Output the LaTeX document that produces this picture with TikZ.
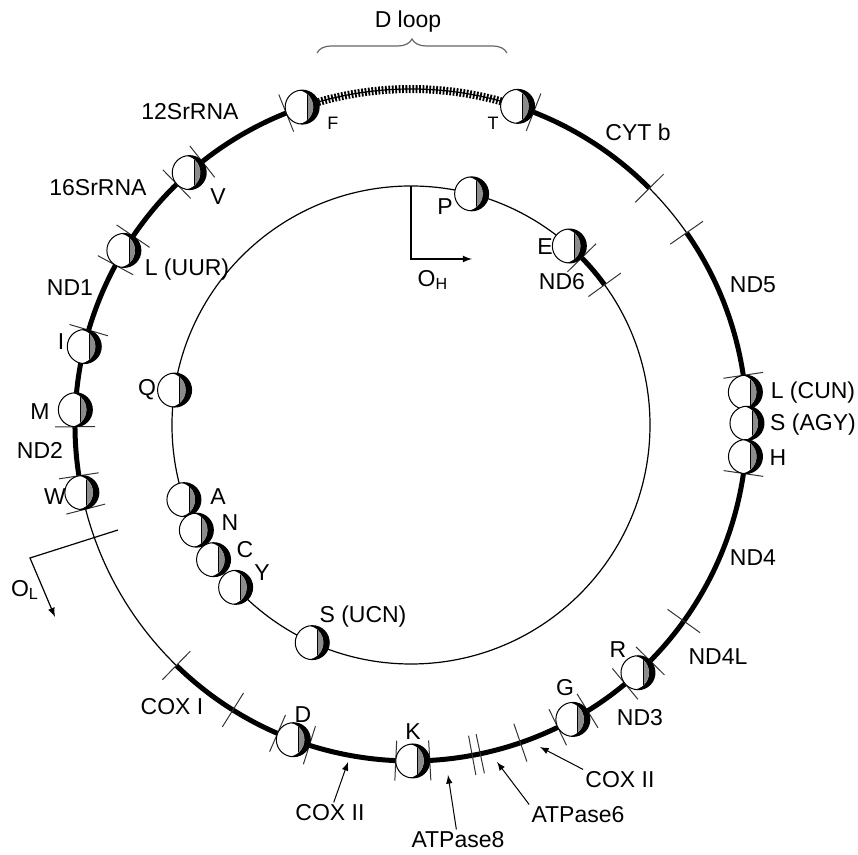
\documentclass[tikz,border=0pt]{standalone}
\usepackage{fontspec}
\setmainfont{Liberation Sans}
\usetikzlibrary{arrows,calc,decorations.pathreplacing}
\definecolor{BandClr}{gray}{0.55}
\definecolor{TickClr}{gray}{0.2}
\definecolor{BraceClr}{gray}{0.4}

\tikzset{
  trna/.style={circle,draw=black,line width=0.5pt,minimum size=17pt,inner sep=0pt,fill=white,
    path picture={
      \fill[black] (path picture bounding box.south west) rectangle (path picture bounding box.north east);
      \begin{scope}
        \clip ([xshift=-3pt]path picture bounding box.center) circle[radius=8.5pt];
        \fill[white] (path picture bounding box.south west) rectangle (path picture bounding box.north east);
        \fill[BandClr] ([xshift=2.5pt]path picture bounding box.south) rectangle (path picture bounding box.north east);
        \draw[line width=0.4pt] ([xshift=2.5pt]path picture bounding box.south) -- ([xshift=2.5pt]path picture bounding box.north);
      \end{scope}
    }},
  strand/.style={line width=0.6pt},
  gene/.style={line width=2.5pt},
  dloop/.style={line width=4pt,dash pattern=on 0.9pt off 0.8pt},
  tick/.style={line width=0.5pt,color=TickClr},
  lbl/.style={font=\fontsize{11.5}{13}\selectfont,inner sep=1pt},
  tlbl/.style={font=\fontsize{9}{10}\selectfont,inner sep=1pt},
  ptr/.style={-latex,line width=0.5pt},
}

\begin{document}
\begin{tikzpicture}[x=0.5pt,y=0.5pt]
\useasboundingbox (-411,-430) rectangle (447,425);

\draw[strand] (0,0) circle[radius=336];
\draw[strand] (0,0) circle[radius=239];

\draw[gene] (44.8:336) arc[start angle=44.8,end angle=71.5,radius=336];
\draw[gene] (8.5:336) arc[start angle=8.5,end angle=34.9,radius=336];
\draw[gene] (225.7:336) arc[start angle=225.7,end angle=354.6,radius=336];
\draw[gene] (108.9:336) arc[start angle=108.9,end angle=191.6,radius=336];
\draw[gene] (35.9:239) arc[start angle=35.9,end angle=48.5,radius=239];
\draw[dloop] (71.5:336) arc[start angle=71.5,end angle=108.9,radius=336];

\foreach \a in {111.8,68.6,44.8,34.9,8.5,351.7,324.3,315.4,309.6,301.7,295.9,289,281.9,280.5,273.2,267.4,252.4,246.6,238,225.7,194.5,188.7,180.3,163.6,151.6,145.8,134.2,128.4}
  \draw[tick] (\a:316) -- (\a:356);
\foreach \a in {44.4,35.9}
  \draw[tick] (\a:219) -- (\a:259);

\node[trna] (F) at (108.9:336) {};
\node[trna] (T) at (71.5:336) {};
\node[trna] (V) at (131.3:336) {};
\node[trna] (Lu) at (148.7:336) {};
\node[trna] (I) at (166.5:336) {};
\node[trna] (M) at (177.4:336) {};
\node[trna] (W) at (191.6:336) {};
\node[trna] (D) at (249.5:336) {};
\node[trna] (K) at (270.3:336) {};
\node[trna] (G) at (298.8:336) {};
\node[trna] (R) at (312.5:336) {};
\node[trna] (Lc) at (5.6:336) {};
\node[trna] (Sa) at (0.3:336) {};
\node[trna] (H) at (354.6:336) {};

\node[trna] (P) at (75.3:239) {};
\node[trna] (E) at (48.5:239) {};
\node[trna] (Q) at (171.6:239) {};
\node[trna] (A) at (198.2:239) {};
\node[trna] (N) at (206.1:239) {};
\node[trna] (C) at (214.3:239) {};
\node[trna] (Y) at (222.8:239) {};
\node[trna] (Su) at (245.6:239) {};

\node[lbl] (lDl) at (-3,403) {D loop};
\draw[decorate,decoration={brace,amplitude=7pt},line width=0.6pt,color=BraceClr] (-94,372) -- (96,372);

\node[tlbl] (lF) at (-78,302) {F};
\node[tlbl] (lT) at (82,302) {T};
\node[lbl] (l12S) at (-221,313) {12SrRNA};
\node[lbl] (l16S) at (-313,237) {16SrRNA};
\node[lbl] (lV) at (-193,228) {V};
\node[lbl] (lLu) at (-224,155) {L (UUR)};
\node[lbl] (lND1) at (-341,137) {ND1};
\node[lbl] (lI) at (-350,83) {I};
\node[lbl] (lM) at (-371,13) {M};
\node[lbl] (lND2) at (-371,-25) {ND2};
\node[lbl] (lW) at (-356,-72) {W};
\node[lbl] (lQ) at (-264,35) {Q};
\node[lbl] (lA) at (-193,-72) {A};
\node[lbl] (lN) at (-181,-98) {N};
\node[lbl] (lC) at (-166,-125) {C};
\node[lbl] (lY) at (-149,-148) {Y};
\node[lbl] (lSu) at (-48,-192) {S (UCN)};
\node[lbl] (lCYT) at (227,293) {CYT b};
\node[lbl] (lP) at (34,218) {P};
\node[lbl] (lE) at (134,178) {E};
\node[lbl] (lND6) at (151,143) {ND6};
\node[lbl] (lND5) at (342,140) {ND5};
\node[lbl] (lLc) at (402,32) {L (CUN)};
\node[lbl] (lSa) at (402,0) {S (AGY)};
\node[lbl] (lH) at (367,-33) {H};
\node[lbl] (lND4) at (342,-133) {ND4};
\node[lbl] (lND4L) at (307,-232) {ND4L};
\node[lbl] (lR) at (207,-225) {R};
\node[lbl] (lND3) at (229,-293) {ND3};
\node[lbl] (lG) at (154,-263) {G};
\node[lbl] (lK) at (2,-307) {K};
\node[lbl] (lD) at (-108,-290) {D};
\node[lbl] (lCOX1) at (-239,-282) {COX I};
\node[lbl] (lCOX2a) at (-81,-388) {COX II};
\node[lbl] (lCOX2b) at (209,-355) {COX II};
\node[lbl] (lATP6) at (167,-390) {ATPase6};
\node[lbl] (lATP8) at (47,-415) {ATPase8};

\coordinate (aCOX2a) at (-63,-337);
\coordinate (aATP8) at (37,-350);
\coordinate (aATP6) at (86,-337);
\coordinate (aCOX2b) at (129,-322);
\draw[ptr] (lCOX2a) -- (aCOX2a);
\draw[ptr] (lATP8) -- (aATP8);
\draw[ptr] (lATP6.north west) -- (aATP6);
\draw[ptr] (lCOX2b.north west) -- (aCOX2b);

\coordinate (oh) at (90:239);
\coordinate (ohc) at (0,166);
\coordinate (ohe) at (61,166);
\draw[ptr,line width=0.6pt] (oh) -- (ohc) -- (ohe);
\node[lbl] (lOH) at (22,145) {O\textsubscript{H}};

\coordinate (olA) at (-293,-105);
\coordinate (olB) at (-381,-133);
\coordinate (olC) at (-356,-192);
\draw[ptr,line width=0.6pt] (olA) -- (olB) -- (olC);
\node[lbl] (lOL) at (-386,-165) {O\textsubscript{L}};

\end{tikzpicture}
\end{document}
